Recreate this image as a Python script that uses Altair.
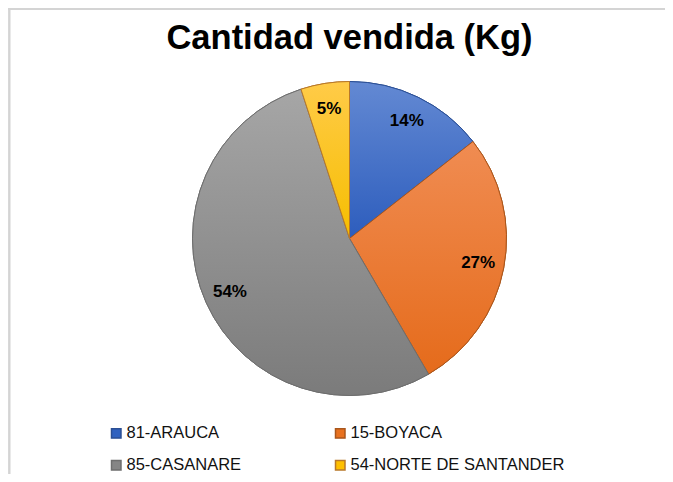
import altair as alt
import pandas as pd

regions = ["81-ARAUCA", "15-BOYACA", "85-CASANARE", "54-NORTE DE SANTANDER"]
values = [14.4, 27.2, 53.4, 5.0]
labels = ["14%", "27%", "54%", "5%"]
solid = ["#3062c0", "#e8711f", "#858585", "#ffc000"]
edges = ["#2b4f94", "#a9561c", "#6e6e6e", "#b8782a"]
grad_top = ["#6389d3", "#f08c52", "#a6a6a6", "#ffcb48"]
grad_bot = ["#2d5dbd", "#e56b1b", "#7b7b7b", "#f6be00"]
title_text = "Cantidad vendida (Kg)"

df = pd.DataFrame({"region": regions, "value": values, "label": labels,
                   "order": list(range(len(regions)))})
total = float(sum(values))

CX, CY, R = 341.5, 230.5, 157
FONT = "Liberation Sans"

base = alt.Chart(df).transform_window(
    end="sum(value)", frame=[None, 0], sort=[alt.SortField("order")]
).transform_calculate(
    start="datum.end - datum.value", mid="datum.end - datum.value / 2"
)
theta_scale = alt.Scale(domain=[0, total], nice=False, zero=True)

leg = dict(orient="none", legendX=100, legendY=417, direction="horizontal", columns=2,
           columnPadding=90, rowPadding=15, title=None, symbolType="square",
           symbolSize=90, symbolStrokeWidth=1.5, labelFont=FONT, labelFontSize=16.5,
           labelColor="#111", labelOffset=2, labelLimit=400, padding=0)

pie = base.mark_arc(radius=R, strokeWidth=1).encode(
    theta=alt.Theta("start:Q", scale=theta_scale),
    theta2="end:Q",
    x=alt.value(CX), y=alt.value(CY),
    color=alt.Color("region:N", sort=regions,
                    scale=alt.Scale(domain=regions, range=solid), legend=alt.Legend(**leg)),
    stroke=alt.Stroke("region:N", sort=regions,
                      scale=alt.Scale(domain=regions, range=edges), legend=alt.Legend(**leg)),
)

overlays = []
for r, t, b, e in zip(regions, grad_top, grad_bot, edges):
    g = alt.LinearGradient(gradient="linear", x1=0, y1=0, x2=0, y2=1,
                           stops=[alt.GradientStop(color=t, offset=0),
                                  alt.GradientStop(color=b, offset=1)])
    overlays.append(
        base.transform_filter(alt.datum.region == r).mark_arc(
            radius=R, fill=g, stroke=e, strokeWidth=1
        ).encode(
            theta=alt.Theta("start:Q", scale=theta_scale),
            theta2="end:Q",
            x=alt.value(CX), y=alt.value(CY),
        )
    )

text = base.mark_text(radius=131, font=FONT, fontSize=17, fontWeight="bold",
                      color="#000", align="center", baseline="middle").encode(
    theta=alt.Theta("mid:Q", scale=theta_scale),
    x=alt.value(CX), y=alt.value(CY),
    text="label:N",
)

one = alt.Chart(pd.DataFrame({"t": [title_text]}))
title = one.mark_text(font=FONT, fontSize=34.5, fontWeight="bold", color="#000",
                      align="center", baseline="alphabetic").encode(
    x=alt.value(CX), y=alt.value(41), text="t:N")
frame_left = one.mark_rule(color="#d4d4d4", strokeWidth=2).encode(
    x=alt.value(1.5), y=alt.value(0), y2=alt.value(470))
frame_top = one.mark_rule(color="#d4d4d4", strokeWidth=2).encode(
    x=alt.value(0), x2=alt.value(670), y=alt.value(1))

chart = alt.layer(frame_left, frame_top, pie, *overlays, text, title).properties(
    width=657, height=466, padding=0, autosize="none"
).configure_view(stroke=None).configure(background="white")

chart.save("out.html", embed_options={"renderer": "svg", "actions": False})
